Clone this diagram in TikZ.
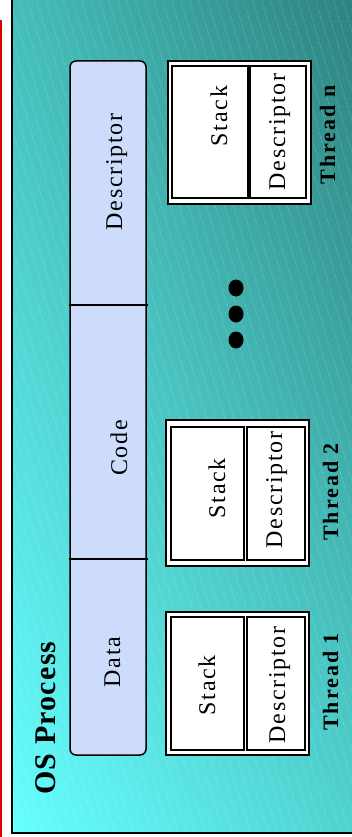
\documentclass[tikz,border=0pt]{standalone}
\usepackage{fontspec}
\setmainfont{Liberation Serif}
\newfontfamily\lblfont[LetterSpace=7]{Liberation Serif}
\newfontfamily\thrfont[LetterSpace=9]{Liberation Serif}
\newfontfamily\osfont[LetterSpace=4]{Liberation Serif}
\usetikzlibrary{shapes.geometric,shadings}
\definecolor{cyanlo}{HTML}{66FFFF}
\definecolor{tealhi}{HTML}{2E827E}
\definecolor{tealul}{HTML}{44BDBA}
\definecolor{teallr}{HTML}{4FD2D0}
\definecolor{procfill}{HTML}{CCDCFA}
\tikzset{
  procbox/.style={draw=black, line width=1.5pt, fill=procfill, rounded corners=6pt},
  divider/.style={draw=black, line width=1.5pt},
  throuter/.style={draw=black, line width=1.2pt, fill=white, inner sep=0pt},
  thrcell/.style={draw=black, line width=1.6pt, fill=white, inner sep=0pt},
  lbl/.style={rotate=90, anchor=base, inner sep=0pt, font=\fontsize{24}{26}\lblfont},
  thrlbl/.style={rotate=90, anchor=base, inner sep=0pt, font=\fontsize{22}{24}\thrfont\bfseries},
  oslbl/.style={rotate=90, anchor=base, inner sep=0pt, font=\fontsize{30}{32}\osfont\bfseries},
  dot/.style={ellipse, fill=black, minimum width=15pt, minimum height=17pt, inner sep=0pt}
}
\begin{document}
\begin{tikzpicture}[x=1pt,y=-1pt]
\useasboundingbox (0,0) rectangle (352,837);
\fill[white] (0,0) rectangle (352,837);
% red margin line
\fill[red!85!black] (0,20) rectangle (2,837);
% background frame
\shade[lower left=cyanlo, upper right=tealhi, upper left=tealul, lower right=teallr] (12,-2) rectangle (354,833);
\begin{scope}
\clip (12,-2) rectangle (354,833);
\foreach \x in {-270,-261,...,360} {
  \draw[white, opacity=0.22, line width=0.6pt, dash pattern=on 3pt off 1.5pt] (\x,-2) -- ++(251,837);
}
\end{scope}
\draw[black, line width=2pt] (12,-5) -- (12,833) -- (356,833);
% process box
\draw[procbox] (70,61) rectangle (146,755);
\coordinate (d1a) at (69,305); \coordinate (d1b) at (148,305);
\coordinate (d2a) at (69,559); \coordinate (d2b) at (148,559);
\draw[divider] (d1a) -- (d1b);
\draw[divider] (d2a) -- (d2b);
\node[lbl] (pdesc) at (122,172) {Descriptor};
\node[lbl] (pcode) at (127,448) {Code};
\node[lbl] (pdata) at (120,662) {Data};
% thread n
\draw[throuter] (168,61) rectangle (311,204);
\draw[thrcell] (172,66) rectangle (248,198);
\draw[thrcell] (250,66) rectangle (306,198);
\node[lbl] (nstack) at (227,116) {Stack};
\node[lbl] (ndesc) at (285,132) {Descriptor};
\node[thrlbl] (nlbl) at (335,135) {Thread n};
% thread 2
\draw[throuter] (166,420) rectangle (309,566);
\draw[thrcell] (171,427) rectangle (244,560);
\draw[thrcell] (247,427) rectangle (305,560);
\node[lbl] (tstack) at (225,488) {Stack};
\node[lbl] (tdesc) at (282,490) {Descriptor};
\node[thrlbl] (tlbl) at (338,492) {Thread 2};
% thread 1
\draw[throuter] (166,612) rectangle (309,755);
\draw[thrcell] (171,617) rectangle (244,750);
\draw[thrcell] (247,617) rectangle (305,750);
\node[lbl] (ostack) at (215,685) {Stack};
\node[lbl] (odesc) at (285,685) {Descriptor};
\node[thrlbl] (olbl) at (338,682) {Thread 1};
% dots
\node[dot] (dota) at (236,288) {};
\node[dot] (dotb) at (236,314) {};
\node[dot] (dotc) at (236,340) {};
% title
\node[oslbl] (title) at (55,718) {OS Process};
\end{tikzpicture}
\end{document}
